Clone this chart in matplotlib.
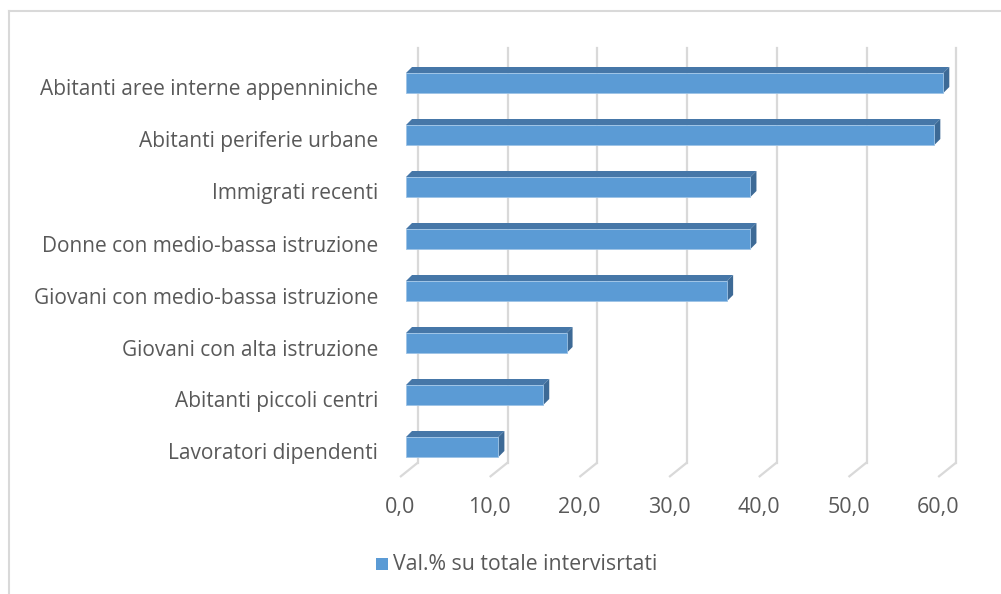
import matplotlib as mpl
import matplotlib.pyplot as plt
from matplotlib.patches import Polygon, Rectangle
from matplotlib.lines import Line2D

mpl.rcParams["font.family"] = ["Open Sans", "DejaVu Sans"]

# data, top of the chart first
categories = [
    "Abitanti aree interne appenniniche",
    "Abitanti periferie urbane",
    "Immigrati recenti",
    "Donne con medio-bassa istruzione",
    "Giovani con medio-bassa istruzione",
    "Giovani con alta istruzione",
    "Abitanti piccoli centri",
    "Lavoratori dipendenti",
]
values = [59.9, 58.9, 38.4, 38.4, 35.8, 17.9, 15.3, 10.3]
ticks = [0, 10, 20, 30, 40, 50, 60]
tick_labels = ["0,0", "10,0", "20,0", "30,0", "40,0", "50,0", "60,0"]
series_name = "Val.% su totale intervisrtati"

W, H = 1001, 594
FRONT = "#5B9BD5"
TOP = "#4677A8"
SIDE = "#3D6A96"
GRID = "#D9D9D9"
TEXT = "#595959"

fig = plt.figure(figsize=(W / 100, H / 100), dpi=100)

# bar front plane: x=0 at px 406, 8.97 px per unit; y from px 473 (bottom) to 57 (top)
x0_px, px_per_x = 406.0, 8.97
xmax = 60.0
ax_left, ax_right = x0_px, x0_px + px_per_x * xmax
ax_top, ax_bot = 57.0, 473.0
ax = fig.add_axes([ax_left / W, 1 - ax_bot / H, (ax_right - ax_left) / W, (ax_bot - ax_top) / H])
n = len(categories)
ax.set_xlim(0, xmax)
ax.set_ylim(-0.5, n - 0.5)
ax.axis("off")
px_per_y = (ax_bot - ax_top) / n


def dx(px):
    return px / px_per_x


def dy(px):
    return px / px_per_y


# depth offsets (pixels) relative to the bar front plane
bar_dx, bar_dy = 6.0, 6.0
back_dx, back_dy = 12.0, 10.5
front_dx, front_dy = -6.0, -4.0

# gridlines on back wall + floor
for t in ticks:
    xb = t + dx(back_dx)
    ax.add_line(Line2D([xb, xb], [-0.5 + dy(back_dy), n - 0.5 + dy(back_dy) - dy(1)],
                       color=GRID, lw=1.6, zorder=1, clip_on=False))
    ax.add_line(Line2D([xb, t + dx(front_dx)], [-0.5 + dy(back_dy), -0.5 + dy(front_dy)],
                       color=GRID, lw=1.6, zorder=1, solid_capstyle="butt", clip_on=False))

# bars
bar_h = 20.0 / px_per_y
for i, (cat, v) in enumerate(zip(categories, values)):
    yc = n - 1 - i
    y0, y1 = yc - bar_h / 2, yc + bar_h / 2
    top = Polygon([(0, y1), (v, y1), (v + dx(bar_dx), y1 + dy(bar_dy)), (dx(bar_dx), y1 + dy(bar_dy))],
                  closed=True, facecolor=TOP, edgecolor="none", zorder=3, clip_on=False)
    side = Polygon([(v, y0), (v + dx(bar_dx), y0 + dy(bar_dy)), (v + dx(bar_dx), y1 + dy(bar_dy)), (v, y1)],
                   closed=True, facecolor=SIDE, edgecolor="none", zorder=3, clip_on=False)
    ax.add_patch(top)
    ax.add_patch(side)
    ax.add_patch(Rectangle((0, y0), v, bar_h, facecolor=FRONT, edgecolor="#9DC3E6",
                           lw=0.6, zorder=4, clip_on=False))
    ax.text(dx(378 - x0_px), yc - dy(7), cat, ha="right", va="center",
            fontsize=15, color=TEXT, clip_on=False)

# value axis labels under the floor front edge
for t, lab in zip(ticks, tick_labels):
    ax.text(t + dx(front_dx), -0.5 - dy(508 - ax_bot), lab, ha="center", va="center",
            fontsize=15.5, color=TEXT, clip_on=False)

# legend
fig.patches.append(Rectangle((376 / W, 1 - 570 / H), 12 / W, 12 / H, transform=fig.transFigure,
                             facecolor=FRONT, edgecolor="none"))
fig.text(393 / W, 1 - 564 / H, series_name, ha="left", va="center", fontsize=15.3, color=TEXT)

# chart area border (left and top edges visible)
fig.add_artist(Line2D([9 / W, 9 / W], [0, 1 - 11 / H], transform=fig.transFigure, color=GRID, lw=1.5))
fig.add_artist(Line2D([9 / W, 1], [1 - 11 / H, 1 - 11 / H], transform=fig.transFigure, color=GRID, lw=1.5))

fig.savefig("out.png", dpi=100, facecolor="white")
